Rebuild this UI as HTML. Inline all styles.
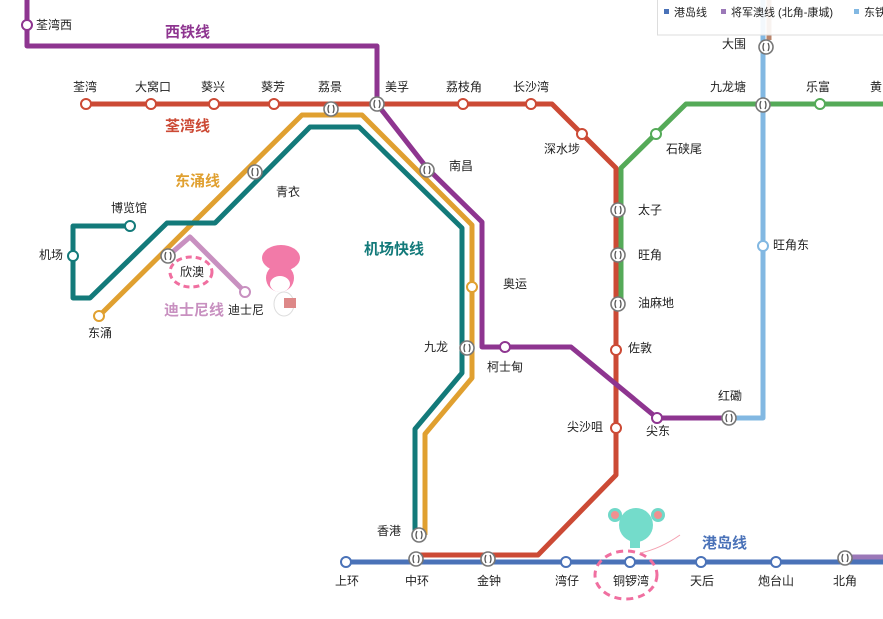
<!DOCTYPE html>
<html><head><meta charset="utf-8"><style>
html,body{margin:0;padding:0;background:#fff;}
svg{display:block;font-family:"Liberation Sans","Noto Sans CJK SC",sans-serif;}
.s{font-size:12px;fill:#222;}
.t{font-size:15px;font-weight:bold;}
</style></head><body>
<svg width="883" height="619" viewBox="0 0 883 619" xmlns="http://www.w3.org/2000/svg">
<defs>
<g id="x"><circle r="7" fill="#fff" stroke="#777" stroke-width="1.6"/><path d="M-2,-4 q-2,4 0,8 M2,-4 q2,4 0,8" stroke="#555" stroke-width="1.3" fill="none"/></g>
</defs>
<g fill="none" stroke-linejoin="round" stroke-width="5">
<!-- Ma On Shan brown -->
<polyline points="769,0 769,40" stroke="#b8836a"/>
<!-- East rail -->
<polyline points="763,0 763,418 729,418" stroke="#82b8e2"/>
<!-- Kwun Tong -->
<polyline points="621,304 621,168 686,104 883,104" stroke="#55aa58"/>
<!-- Tsuen Wan -->
<polyline points="86,104 552,104 616,168 616,475 538,555 416,555" stroke="#cc4a35"/>
<!-- West Rail -->
<polyline points="27,0 27,46 377,46 377,104 427,168 482,222 482,347 571,347 657,418 729,418" stroke="#8e3590"/>
<!-- Tung Chung -->
<polyline points="99,316 302,115 362,115 472,225 472,378 425,434 425,535" stroke="#e0a030"/>
<!-- Airport Express -->
<polyline points="130,226 73,226 73,298 90,298 167,223 215,223 310,127 359,127 462,228 462,373 415,429 415,535" stroke="#137a7a"/>
<!-- Disney -->
<polyline points="168,256 190,237 245,292" stroke="#c890c0"/>
<!-- Island -->
<polyline points="346,562 883,562" stroke="#4a72b8"/>
<polyline points="846,557 883,557" stroke="#9b78b8"/>
</g>
<!-- stations -->
<g fill="#fff" stroke-width="2">
<circle cx="27" cy="25" r="5" stroke="#8e3590"/>
<g stroke="#cc4a35"><circle cx="86" cy="104" r="5"/><circle cx="151" cy="104" r="5"/><circle cx="214" cy="104" r="5"/><circle cx="274" cy="104" r="5"/><circle cx="463" cy="104" r="5"/><circle cx="531" cy="104" r="5"/><circle cx="582" cy="134" r="5"/><circle cx="616" cy="350" r="5"/><circle cx="616" cy="428" r="5"/></g>
<g stroke="#55aa58"><circle cx="656" cy="134" r="5"/><circle cx="820" cy="104" r="5"/></g>
<circle cx="763" cy="246" r="5" stroke="#82b8e2"/>
<circle cx="505" cy="347" r="5" stroke="#8e3590"/><circle cx="657" cy="418" r="5" stroke="#8e3590"/>
<circle cx="99" cy="316" r="5" stroke="#e0a030"/><circle cx="472" cy="287" r="5" stroke="#e0a030"/>
<circle cx="130" cy="226" r="5" stroke="#137a7a"/><circle cx="73" cy="256" r="5" stroke="#137a7a"/>
<circle cx="245" cy="292" r="5" stroke="#c890c0"/>
<g stroke="#4a72b8"><circle cx="346" cy="562" r="5"/><circle cx="566" cy="562" r="5"/><circle cx="630" cy="562" r="5"/><circle cx="701" cy="562" r="5"/><circle cx="776" cy="562" r="5"/></g>
</g>
<g>
<use href="#x" x="331" y="109"/><use href="#x" x="377" y="104"/><use href="#x" x="255" y="172"/><use href="#x" x="168" y="256"/><use href="#x" x="427" y="170"/>
<use href="#x" x="766" y="47"/><use href="#x" x="763" y="105"/><use href="#x" x="618" y="210"/><use href="#x" x="618" y="255"/><use href="#x" x="618" y="304"/>
<use href="#x" x="467" y="348"/><use href="#x" x="729" y="418"/><use href="#x" x="419" y="535"/><use href="#x" x="416" y="559"/><use href="#x" x="488" y="559"/><use href="#x" x="845" y="558"/>
</g>
<!-- legend -->
<rect x="657.5" y="-2" width="240" height="37" fill="#fff" fill-opacity="0.9" stroke="#ddd"/>
<rect x="664" y="9" width="5" height="5" fill="#4a72b8"/><text x="674" y="16" class="s" style="font-size:11px">港岛线</text>
<rect x="721" y="9" width="5" height="5" fill="#9b78b8"/><text x="731" y="16" class="s" style="font-size:11px">将军澳线 (北角-康城)</text>
<rect x="854" y="9" width="5" height="5" fill="#82b8e2"/><text x="864" y="16" class="s" style="font-size:11px">东铁</text>
<!-- line names -->
<text x="165" y="37" class="t" fill="#8e3590">西铁线</text>
<text x="165" y="131" class="t" fill="#cc4a35">荃湾线</text>
<text x="175" y="186" class="t" fill="#e0a030">东涌线</text>
<text x="364" y="254" class="t" fill="#137a7a">机场快线</text>
<text x="164" y="315" class="t" fill="#c890c0">迪士尼线</text>
<text x="702" y="548" class="t" fill="#4a72b8">港岛线</text>
<!-- station labels -->
<g class="s">
<text x="36" y="29">荃湾西</text>
<text x="73" y="91">荃湾</text><text x="135" y="91">大窝口</text><text x="201" y="91">葵兴</text><text x="261" y="91">葵芳</text><text x="318" y="91">荔景</text><text x="385" y="91">美孚</text>
<text x="446" y="91">荔枝角</text><text x="513" y="91">长沙湾</text><text x="544" y="153">深水埗</text><text x="449" y="170">南昌</text>
<text x="666" y="153">石硖尾</text><text x="710" y="91">九龙塘</text><text x="806" y="91">乐富</text><text x="870" y="91">黄</text><text x="722" y="48">大围</text>
<text x="638" y="214">太子</text><text x="638" y="259">旺角</text><text x="638" y="307">油麻地</text><text x="628" y="352">佐敦</text><text x="567" y="431">尖沙咀</text>
<text x="773" y="249">旺角东</text><text x="718" y="400">红磡</text><text x="646" y="435">尖东</text>
<text x="487" y="371">柯士甸</text><text x="503" y="288">奥运</text><text x="424" y="351">九龙</text><text x="377" y="535">香港</text>
<text x="276" y="196">青衣</text><text x="111" y="212">博览馆</text><text x="39" y="259">机场</text><text x="88" y="337">东涌</text>
<text x="180" y="276">欣澳</text><text x="228" y="314">迪士尼</text>
<text x="335" y="585">上环</text><text x="405" y="585">中环</text><text x="477" y="585">金钟</text><text x="555" y="585">湾仔</text><text x="613" y="585">铜锣湾</text><text x="690" y="585">天后</text><text x="758" y="585">炮台山</text><text x="833" y="585">北角</text>
</g>
<!-- dashed highlights -->
<ellipse cx="191" cy="272" rx="21" ry="15" fill="none" stroke="#f06fa0" stroke-width="3" stroke-dasharray="6,4"/>
<ellipse cx="626" cy="575" rx="31" ry="24" fill="none" stroke="#f06fa0" stroke-width="3" stroke-dasharray="7,5"/>
<!-- melody -->
<g>
<ellipse cx="281" cy="258" rx="19" ry="13" fill="#f27aa8"/>
<ellipse cx="280" cy="278" rx="14" ry="14" fill="#f27aa8"/>
<ellipse cx="280" cy="284" rx="10" ry="8" fill="#fff"/>
<ellipse cx="284" cy="304" rx="10" ry="12" fill="#fff" stroke="#ddd"/>
<rect x="284" y="298" width="12" height="10" fill="#d88"/>
</g>
<!-- mouse -->
<g>
<circle cx="615" cy="515" r="7" fill="#70d8c8"/><circle cx="658" cy="515" r="7" fill="#70d8c8"/>
<circle cx="615" cy="515" r="4" fill="#f09090"/><circle cx="658" cy="515" r="4" fill="#f09090"/>
<ellipse cx="636" cy="525" rx="17" ry="17" fill="#74dccb"/>
<rect x="630" y="538" width="10" height="10" fill="#74dccb"/>
<path d="M640,553 q20,-4 40,-18" stroke="#f4a0b0" fill="none"/>
</g>
</svg>
</body></html>
